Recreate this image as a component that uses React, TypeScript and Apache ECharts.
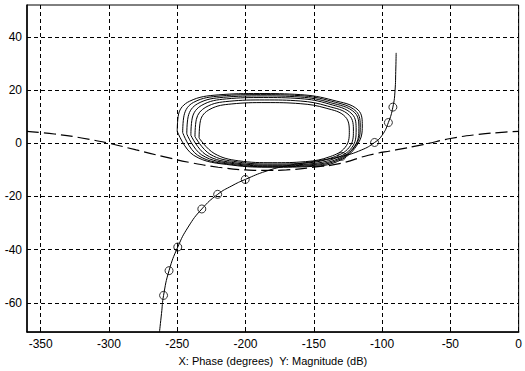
import React, { useEffect, useRef } from "react";
import * as echarts from "echarts";

const xTicks = [-350, -300, -250, -200, -150, -100, -50, 0];
const yTicks = [-60, -40, -20, 0, 20, 40];

// Dashed (long-dash) curve: phase, magnitude
const dashX = [-360, -340, -320, -300, -280, -260, -240, -220, -200, -185, -170, -150, -130, -110, -90, -70, -50, -30, -10, 0];
const dashY = [4.5, 3.5, 2, 0, -2.5, -5, -7.3, -9, -10, -10.2, -10, -9, -7.5, -4.5, -2.5, -0.5, 1.8, 3.3, 4.2, 4.5];

// Solid curve through the markers
const curveX = [-263, -261.5, -260, -256, -249.6, -242, -232, -220.4, -210, -200.2, -185, -170, -150, -129.6, -115, -105.5, -100, -95.4, -92.1, -90.5, -90, -89.7];
const curveY = [-71, -64, -57.2, -47.9, -39, -31.5, -24.7, -19.2, -16, -13.6, -10.5, -8.5, -6.8, -4.9, -2.5, 0.3, 3, 7.8, 13.6, 20, 27, 34];

// Markers on the solid curve
const markX = [-260, -256, -249.6, -232, -220.4, -200.2, -129.6, -105.5, -95.4, -92.1];
const markY = [-57.2, -47.9, -39, -24.7, -19.2, -13.6, -4.9, 0.3, 7.8, 13.6];

// Closed loops (phase, magnitude)
const loop1X = [-234, -233, -226, -210, -185, -160, -141, -127, -124, -127, -138, -156, -180, -205, -223, -234];
const loop1Y = [2, 8.5, 12.8, 14.8, 15.3, 14.9, 13.2, 10, 4, -1.5, -5, -6.9, -7.3, -6.6, -3.8, 2];
const loop2X = [-237, -236, -229, -212, -186, -160, -140, -124, -121, -124, -136, -155, -180, -206, -226, -237];
const loop2Y = [2.5, 9, 13.6, 15.8, 16.3, 15.9, 14, 10.5, 4.5, -1.5, -5.3, -7.4, -7.8, -7, -4.1, 2.5];
const loop3X = [-240, -239, -232, -214, -187, -160, -139, -122, -119, -122, -134, -154, -180, -207, -229, -240];
const loop3Y = [3, 9.5, 14.3, 16.7, 17.2, 16.8, 14.8, 11, 5, -1.5, -5.6, -7.8, -8.2, -7.4, -4.3, 3];
const loop4X = [-243, -242, -235, -216, -188, -160, -138, -120, -117, -120, -132, -153, -180, -208, -232, -243];
const loop4Y = [3.5, 10, 14.9, 17.3, 17.8, 17.4, 15.3, 11.5, 5.5, -1, -5.8, -8.1, -8.5, -7.7, -4.4, 3.5];
const loop5X = [-246, -245, -238, -218, -189, -160, -137, -119, -116, -119, -131, -152, -180, -209, -235, -246];
const loop5Y = [4, 10.5, 15.4, 17.8, 18.3, 17.9, 15.8, 12, 6, -0.5, -6, -8.4, -8.8, -8, -4.5, 4];
const loop6X = [-250, -249, -241, -220, -190, -160, -136, -117.5, -114.5, -117.5, -130, -151, -180, -210, -238, -250];
const loop6Y = [4.5, 11, 15.8, 18.2, 18.7, 18.3, 16.2, 12.5, 6.5, 0, -6.2, -8.7, -9, -8.2, -4.5, 4.5];

const loopsX = [loop1X, loop2X, loop3X, loop4X, loop5X, loop6X];
const loopsY = [loop1Y, loop2Y, loop3Y, loop4Y, loop5Y, loop6Y];

const zip = (xs: number[], ys: number[]) => xs.map((x, i) => [x, ys[i]]);

const FONT = "Liberation Sans, Arial, sans-serif";

export default function App() {
  const ref = useRef<HTMLDivElement>(null);
  useEffect(() => {
    if (!ref.current) return;
    const chart = echarts.init(ref.current, undefined, { renderer: "svg" });
    const loopSeries = loopsX.map((lx, i) => ({
      type: "line",
      data: zip(lx, loopsY[i]),
      showSymbol: false,
      smooth: 0.4,
      lineStyle: { color: "#000", width: 1 },
      z: 3,
    }));
    chart.setOption({
      animation: false,
      backgroundColor: "#fff",
      grid: {
        left: 27,
        right: 4,
        top: 5,
        bottom: 38,
        show: true,
        borderColor: "#000",
        borderWidth: 1,
        backgroundColor: "transparent",
      },
      xAxis: {
        type: "value",
        min: -360,
        max: 0,
        name: "X: Phase (degrees)  Y: Magnitude (dB)",
        nameLocation: "middle",
        nameGap: 22,
        nameTextStyle: { fontFamily: FONT, fontSize: 11, color: "#000" },
        axisLine: { show: true, onZero: false, lineStyle: { color: "#000", width: 1.5 } },
        axisTick: { show: true, inside: true, length: 3, customValues: xTicks, lineStyle: { color: "#000" } },
        axisLabel: {
          customValues: xTicks,
          fontFamily: FONT,
          fontSize: 12,
          color: "#000",
          margin: 6,
        },
        splitLine: { show: true, lineStyle: { color: "#000", type: [4, 3], width: 1 } },
      },
      yAxis: {
        type: "value",
        min: -71,
        max: 52,
        axisLine: { show: true, onZero: false, lineStyle: { color: "#000", width: 1.5 } },
        axisTick: { show: true, inside: true, length: 3, customValues: yTicks, lineStyle: { color: "#000" } },
        axisLabel: {
          customValues: yTicks,
          fontFamily: FONT,
          fontSize: 12,
          color: "#000",
          margin: 5,
        },
        splitLine: { show: true, lineStyle: { color: "#000", type: [4, 3], width: 1 } },
      },
      series: [
        ...loopSeries,
        {
          type: "line",
          data: zip(dashX, dashY),
          showSymbol: false,
          smooth: true,
          lineStyle: { color: "#000", width: 1.2, type: [12, 5] },
          z: 3,
        },
        {
          type: "line",
          data: zip(curveX, curveY),
          showSymbol: false,
          smooth: true,
          lineStyle: { color: "#000", width: 1 },
          z: 4,
        },
        {
          type: "scatter",
          data: zip(markX, markY),
          symbol: "circle",
          symbolSize: 8,
          itemStyle: { color: "rgba(0,0,0,0)", borderColor: "#000", borderWidth: 1 },
          z: 5,
        },
      ],
    });
    return () => chart.dispose();
  }, []);
  return (
    <div
      ref={ref}
      style={{ position: "fixed", left: 0, top: 0, width: 525, height: 371, background: "#fff" }}
    />
  );
}
